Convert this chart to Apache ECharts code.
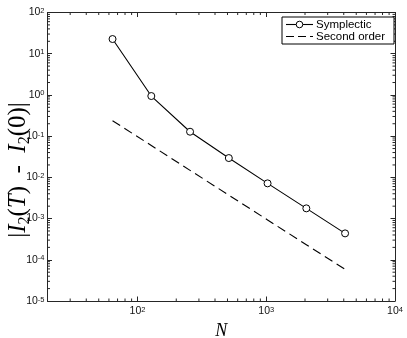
<!DOCTYPE html>
<html>
<head>
<meta charset="utf-8">
<script src="https://cdn.jsdelivr.net/npm/echarts@6/dist/echarts.min.js"></script>
<style>html,body{margin:0;padding:0;background:#fff;}#c{width:407px;height:338px;}</style>
</head>
<body>
<div id="c"></div>
<script>
var N = [64, 128, 256, 512, 1024, 2048, 4096];
var symplectic = [22.7, 0.94, 0.128, 0.0294, 0.00715, 0.00177, 0.000437];
var secondOrder = [0.237, 0.0593, 0.0148, 0.0037, 0.000926, 0.000232, 0.0000585];
var xMin = 20, xMax = 10000, yMin = 1e-5, yMax = 100;
var seriesNames = ['Symplectic', 'Second order'];

var AX = '#262626';
var minorX = [], minorY = [];
for (var e = 1; e < 4; e++) for (var m = 2; m <= 9; m++) { var v = m * Math.pow(10, e); if (v > xMin && v < xMax) minorX.push([v, 1]); }
for (var e2 = -5; e2 < 2; e2++) for (var m2 = 2; m2 <= 9; m2++) { minorY.push([100, m2 * Math.pow(10, e2)]); }

function isPow(v) { var l = Math.log10(v); return Math.abs(l - Math.round(l)) < 1e-6; }
function fmt(v) { if (!isPow(v)) return ''; return '{b|10}{e|' + Math.round(Math.log10(v)) + '}'; }
var labelRich = {
  b: { fontSize: 10.5, fontFamily: 'Liberation Sans', color: '#111', verticalAlign: 'bottom', padding: [5, 0, 0, 0], lineHeight: 11 },
  e: { fontSize: 7.5, fontFamily: 'Liberation Sans', color: '#111', verticalAlign: 'top', lineHeight: 8 }
};
function axisCommon(pos, showLabel) {
  return {
    type: 'log', logBase: 10, position: pos,
    axisLine: { show: true, lineStyle: { color: AX, width: 1 } },
    axisTick: { show: true, inside: true, length: 4.5, lineStyle: { color: AX, width: 1 } },
    splitLine: { show: false },
    axisLabel: { show: showLabel, formatter: fmt, rich: labelRich, margin: 5 }
  };
}
var xa0 = axisCommon('bottom', true); xa0.min = xMin; xa0.max = xMax;
xa0.name = 'N'; xa0.nameLocation = 'middle'; xa0.nameGap = 21;
xa0.nameTextStyle = { fontFamily: 'Liberation Serif', fontStyle: 'italic', fontSize: 18, color: '#000' };
var xa1 = axisCommon('top', false); xa1.min = xMin; xa1.max = xMax;
var ya0 = axisCommon('left', true); ya0.min = yMin; ya0.max = yMax; ya0.axisLabel.margin = 3;
var ya1 = axisCommon('right', false); ya1.min = yMin; ya1.max = yMax;

function pairs(xs, ys) { return xs.map(function (x, i) { return [x, ys[i]]; }); }

var chart = echarts.init(document.getElementById('c'), null, { renderer: 'canvas' });
var sub = { fontFamily: 'Liberation Serif', fontSize: 16, color: '#000', verticalAlign: 'bottom', lineHeight: 16 };
var it = { fontFamily: 'Liberation Serif', fontStyle: 'italic', fontSize: 25, color: '#000', lineHeight: 29 };
var rm = { fontFamily: 'Liberation Serif', fontSize: 25, color: '#000', lineHeight: 29 };

var LX = 282, LY = 17, LW = 112, LH = 27;
var legendG = [
  { type: 'rect', shape: { x: LX, y: LY, width: LW, height: LH }, style: { fill: '#fff', stroke: '#000', lineWidth: 1 }, z: 100 },
  { type: 'line', shape: { x1: 286, y1: 24.5, x2: 313, y2: 24.5 }, style: { stroke: '#000', lineWidth: 1.1 }, z: 101 },
  { type: 'circle', shape: { cx: 299.5, cy: 24.5, r: 3.3 }, style: { fill: '#fff', stroke: '#000', lineWidth: 1 }, z: 102 },
  { type: 'text', x: 316, y: 24.5, style: { text: seriesNames[0], fontFamily: 'Liberation Sans', fontSize: 11.5, fill: '#000', verticalAlign: 'middle' }, z: 101 },
  { type: 'line', shape: { x1: 286, y1: 36.5, x2: 313, y2: 36.5 }, style: { stroke: '#000', lineWidth: 1.1, lineDash: [8, 4] }, z: 101 },
  { type: 'text', x: 316, y: 36.5, style: { text: seriesNames[1], fontFamily: 'Liberation Sans', fontSize: 11.5, fill: '#000', verticalAlign: 'middle' }, z: 101 }
];

chart.setOption({
  animation: false,
  grid: { left: 47.5, right: 12, top: 12.5, bottom: 37, containLabel: false, outerBoundsMode: 'none' },
  xAxis: [xa0, xa1],
  yAxis: [ya0, ya1],
  graphic: [{
    type: 'text', x: 18, y: 170, rotation: Math.PI / 2,
    style: {
      text: '{r||}{i|I}{s|2}{r|(}{i|T}{r|)  -  }{i|I}{s|2}{r|(0)|}',
      rich: { i: it, r: rm, s: sub },
      align: 'center', verticalAlign: 'middle'
    }
  }].concat(legendG),
  series: [
    {
      name: seriesNames[0], type: 'line', data: pairs(N, symplectic),
      symbol: 'circle', symbolSize: 7,
      itemStyle: { color: '#fff', borderColor: '#000', borderWidth: 1 },
      lineStyle: { color: '#000', width: 1.1 }, z: 5
    },
    {
      name: seriesNames[1], type: 'line', data: pairs(N, secondOrder),
      symbol: 'none', itemStyle: { color: '#000' },
      lineStyle: { color: '#000', width: 1.1, type: [9, 5] }
    },
    {
      type: 'custom', data: minorX, silent: true, clip: false,
      renderItem: function (params, api) {
        var v = api.value(0);
        var b = api.coord([v, yMin]), t = api.coord([v, yMax]);
        return { type: 'group', children: [
          { type: 'line', shape: { x1: b[0], y1: b[1], x2: b[0], y2: b[1] - 2.5 }, style: { stroke: AX, lineWidth: 1 } },
          { type: 'line', shape: { x1: t[0], y1: t[1], x2: t[0], y2: t[1] + 2.5 }, style: { stroke: AX, lineWidth: 1 } }
        ] };
      }
    },
    {
      type: 'custom', data: minorY, silent: true, clip: false,
      renderItem: function (params, api) {
        var v = api.value(1);
        var l = api.coord([xMin, v]), r = api.coord([xMax, v]);
        return { type: 'group', children: [
          { type: 'line', shape: { x1: l[0], y1: l[1], x2: l[0] + 2.5, y2: l[1] }, style: { stroke: AX, lineWidth: 1 } },
          { type: 'line', shape: { x1: r[0], y1: r[1], x2: r[0] - 2.5, y2: r[1] }, style: { stroke: AX, lineWidth: 1 } }
        ] };
      }
    }
  ]
});
</script>
</body>
</html>
